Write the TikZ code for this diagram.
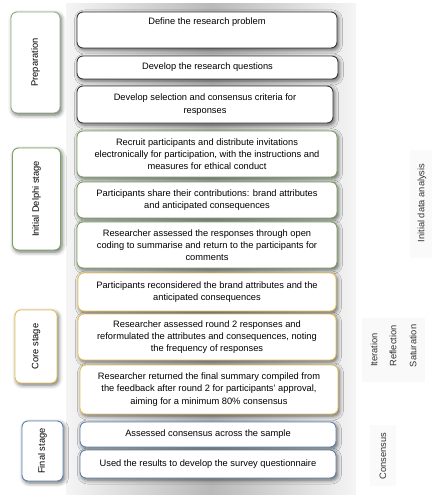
\documentclass[tikz,border=0pt]{standalone}
\usepackage{fontspec}
\setmainfont{Liberation Sans}
\usepackage{tikz}
\usetikzlibrary{shadows.blur}

\definecolor{prepcol}{HTML}{3A3A3A}
\definecolor{preplight}{HTML}{8FB07E}
\definecolor{delphicol}{HTML}{78A45E}
\definecolor{corecol}{HTML}{E8C25A}
\definecolor{finalcol}{HTML}{5E84AE}

\tikzset{
  stepbox/.style={draw,rounded corners=6pt,fill=white,line width=0.9pt,align=center,
    font=\fontsize{9.3}{12.3}\selectfont,inner sep=0pt,
    blur shadow={shadow xshift=1.5pt,shadow yshift=-2pt,shadow blur radius=4pt,shadow opacity=60}},
  stagebox/.style={stepbox,rotate=90},
  sidelabel/.style={rotate=90,font=\fontsize{9.3}{11}\selectfont,text=black!80}
}

\begin{document}
\begin{tikzpicture}[x=1pt,y=-1pt]
			\useasboundingbox (0,0) rectangle (433,500);
			% grey band behind the steps
			\shade[left color=gray!8,right color=gray!8,middle color=gray!55] (66,4) rectangle (356,494);
			\fill[gray!5] (362,318) rectangle (425,382);
			\fill[gray!4] (410,150) rectangle (432,258);
			\fill[gray!4] (370,425) rectangle (396,486);
			
			% stages
			\node[stagebox,draw=preplight,minimum width=101pt,minimum height=49pt] (prep) at (35.5,62.5) {Preparation};
			\node[stagebox,draw=delphicol,minimum width=102pt,minimum height=48pt] (delphi) at (36.5,199) {Initial Delphi stage};
			\node[stagebox,draw=corecol,minimum width=73pt,minimum height=42pt] (core) at (36,346.5) {Core stage};
			\node[stagebox,draw=finalcol,minimum width=60pt,minimum height=41pt] (final) at (42.5,451) {Final stage};
			
			% steps
			\node[stepbox,draw=prepcol,minimum width=260pt,minimum height=36pt] (problem) at (207,30) {Define the research problem\\[6pt]};
			\node[stepbox,draw=prepcol,minimum width=261pt,minimum height=23pt] (questions) at (207.5,67.5) {Develop the research questions};
			\node[stepbox,draw=prepcol,minimum width=256pt,minimum height=37pt] (criteria) at (205,104.5) {Develop selection and consensus criteria for\\responses};
			\node[stepbox,draw=delphicol,minimum width=260pt,minimum height=46pt] (recruit) at (207,154) {Recruit participants and distribute invitations\\electronically for participation, with the instructions and\\measures for ethical conduct};
			\node[stepbox,draw=delphicol,minimum width=260pt,minimum height=36pt] (share) at (207,200) {Participants share their contributions: brand attributes\\and anticipated consequences};
			\node[stepbox,draw=delphicol,minimum width=260pt,minimum height=46pt] (assess) at (207,245) {Researcher assessed the responses through open\\coding to summarise and return to the participants for\\comments};
			\node[stepbox,draw=corecol,minimum width=258pt,minimum height=38pt] (reconsider) at (207,292) {Participants reconsidered the brand attributes and the\\anticipated consequences};
			\node[stepbox,draw=corecol,minimum width=258pt,minimum height=46pt] (round) at (207,337) {Researcher assessed round 2 responses and\\reformulated the attributes and consequences, noting\\the frequency of responses};
			\node[stepbox,draw=corecol,minimum width=258pt,minimum height=49pt] (summary) at (209,389.5) {Researcher returned the final summary compiled from\\the feedback after round 2 for participants’ approval,\\aiming for a minimum 80\% consensus};
			\node[stepbox,draw=finalcol,minimum width=256pt,minimum height=25pt] (sample) at (208,434.5) {Assessed consensus across the sample};
			\node[stepbox,draw=finalcol,minimum width=256pt,minimum height=28pt] (survey) at (208,464) {Used the results to develop the survey questionnaire};
			
			% right hand labels
			\node[sidelabel] (initial) at (422,203) {Initial data analysis};
			\node[sidelabel] (iteration) at (374,350) {Iteration};
			\node[sidelabel] (reflection) at (393,346) {Reflection};
			\node[sidelabel] (saturation) at (413,346) {Saturation};
			\node[sidelabel] (consensus) at (383,456) {Consensus};
		\end{tikzpicture}
\end{document}
